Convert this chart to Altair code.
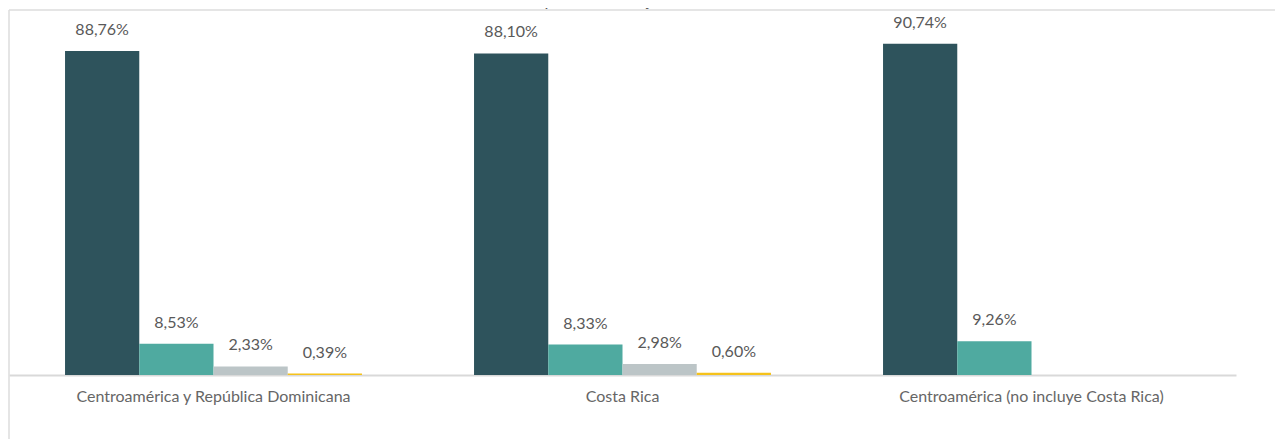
import altair as alt
import pandas as pd

regions = ["Centroamérica y República Dominicana", "Costa Rica", "Centroamérica (no incluye Costa Rica)"]
series = ["Serie 1", "Serie 2", "Serie 3", "Serie 4"]
serie_1 = [88.76, 88.10, 90.74]
serie_2 = [8.53, 8.33, 9.26]
serie_3 = [2.33, 2.98, None]
serie_4 = [0.39, 0.60, None]
colors = ["#2E535C", "#4FAAA0", "#BCC5C7", "#F5C21B"]
title_text = "con respecto al trabajo en el monitor. 2021"

rows = []
for s, vals in zip(series, [serie_1, serie_2, serie_3, serie_4]):
    for r, v in zip(regions, vals):
        if v is None:
            continue
        rows.append({"region": r, "serie": s, "valor": v,
                     "etiqueta": f"{v:.2f}".replace(".", ",") + "%"})
df = pd.DataFrame(rows)

FONT = "Lato"
W, H = 1227, 365

x_enc = alt.X("region:N", sort=regions, title=None,
              scale=alt.Scale(paddingInner=0.274, paddingOuter=0.137),
              axis=alt.Axis(labelAngle=0, ticks=False, domainColor="#D9D9D9", domainWidth=2,
                            labelFont=FONT, labelFontSize=16, labelColor="#666666",
                            labelPadding=13, labelLimit=0))
xo_enc = alt.XOffset("serie:N", sort=series, scale=alt.Scale(domain=series, paddingInner=0))
y_enc = alt.Y("valor:Q", scale=alt.Scale(domain=[0, 100]), axis=None)

base = alt.Chart(df).encode(x=x_enc, xOffset=xo_enc, y=y_enc)

bars = base.mark_bar().encode(
    color=alt.Color("serie:N", sort=series, scale=alt.Scale(domain=series, range=colors), legend=None)
)
labels = base.mark_text(font=FONT, fontSize=16, color="#595959", baseline="middle", dy=-21).encode(
    text="etiqueta:N"
)

frame_df = pd.DataFrame({"t": [title_text]})
top_line = alt.Chart(frame_df).mark_rule(color="#DDDDDD", strokeWidth=1.5).encode(
    x=alt.value(0), x2=alt.value(1270), y=alt.value(0)
)
left_line = alt.Chart(frame_df).mark_rule(color="#DDDDDD", strokeWidth=1.5).encode(
    x=alt.value(0), y=alt.value(0), y2=alt.value(440)
)
title = alt.Chart(frame_df).mark_text(font=FONT, fontSize=17, color="#595959",
                                      baseline="alphabetic", align="center").encode(
    x=alt.value(642), y=alt.value(-4), text="t:N"
)

chart = alt.layer(top_line, left_line, bars, labels, title).properties(
    width=W, height=H,
    autosize=alt.AutoSizeParams(type="none"),
    padding={"left": 1, "top": 2, "right": 39, "bottom": 64},
    background="white",
).configure_view(stroke=None)

chart.save("out.html", embed_options={"renderer": "svg", "actions": False})
